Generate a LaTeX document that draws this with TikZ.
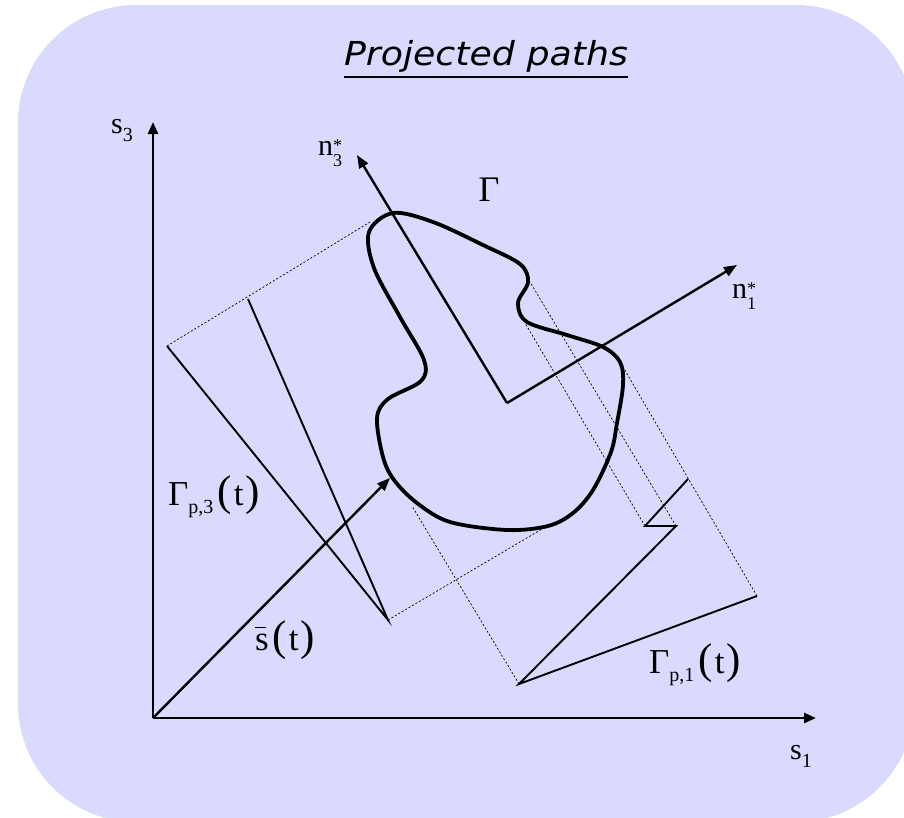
\documentclass[tikz,border=0pt]{standalone}
\usepackage{fontspec}
\setmainfont{Liberation Serif}
\newfontfamily\titlefont{DejaVu Sans}
\usetikzlibrary{arrows.meta}
\definecolor{bgfill}{RGB}{218,218,254}
\newcommand{\bigsz}{\fontsize{35}{35}\selectfont}
\newcommand{\subsz}{\fontsize{20}{20}\selectfont}
\newcommand{\smsz}{\fontsize{18}{18}\selectfont}
\newcommand{\parsz}{\fontsize{43}{43}\selectfont}
\newcommand{\mysub}[1]{\raisebox{-8pt}{\subsz #1}}
\newcommand{\mystar}[1]{\raisebox{-11pt}{\smsz\shortstack[l]{*\\#1}}}
\newcommand{\myarg}{\kern4pt{\parsz(}\kern2pt t\kern2pt{\parsz)}}
\begin{document}
\begin{tikzpicture}[x=1pt,y=-1pt,
  axis/.style={line width=2.6pt,-{Triangle[length=12pt,width=10pt]}},
  vec/.style={line width=2.4pt,-{Triangle[length=13pt,width=10pt]}},
  proj/.style={line width=1.9pt,line join=miter},
  guide/.style={line width=0.7pt,dash pattern=on 2pt off 2pt},
  curve/.style={line width=3.8pt},
  lbl/.style={inner sep=0pt,font=\fontsize{30}{30}\selectfont}]
\useasboundingbox (0,0) rectangle (904,817);
\clip (0,0) rectangle (904,817);
\fill[bgfill,rounded corners=118pt] (18,5) rectangle (914,822);

% title
\node (title) [anchor=base,inner sep=0pt,font=\titlefont\itshape\fontsize{33}{33}\selectfont] at (486,65) {\scalebox{1.1}[1]{Projected paths}};
\draw[line width=1.8pt] ([yshift=-12pt]title.base west) -- ([yshift=-12pt]title.base east);

% points
\coordinate (O) at (153,718);
\coordinate (S3) at (153,122);
\coordinate (S1) at (816,718);
\coordinate (St) at (390,478);
\coordinate (C) at (507,403);
\coordinate (N3) at (357,155);
\coordinate (N1) at (737,265);
\coordinate (A1) at (167,346);
\coordinate (A2) at (388,620);
\coordinate (A3) at (248,299);
\coordinate (B1) at (688,479);
\coordinate (B2) at (645,526);
\coordinate (B3) at (676,526);
\coordinate (B4) at (519,684);
\coordinate (B5) at (757,596);
\coordinate (T1) at (370,222);
\coordinate (T2) at (547,526);
\coordinate (T3) at (412,506);
\coordinate (T4) at (525,323);
\coordinate (T5) at (530,282);
\coordinate (T6) at (623,367);

% guide lines
\draw[guide] (A1) -- (T1);
\draw[guide] (A2) -- (T2);
\draw[guide] (B4) -- (T3);
\draw[guide] (B2) -- (T4);
\draw[guide] (B3) -- (T5);
\draw[guide] (B5) -- (T6);

% projected paths
\draw[proj] (A1) -- (A2) -- (A3);
\draw[proj] (B1) -- (B2) -- (B3) -- (B4) -- (B5);

% curve Gamma
\draw[curve] plot[smooth cycle,tension=0.55] coordinates {
 (393,213) (433,222) (483,245) (520,264) (528,282) (518,303) (527,322)
 (567,335) (603,347) (620,362) (623,385) (617,423) (611,452) (593,490)
 (573,513) (548,526) (507,530) (450,522) (417,503) (394,480) (383,457)
 (377,418) (388,399) (421,381) (424,360) (400,317) (374,268) (369,232)};

% local axes
\draw[vec] (C) -- (N3);
\draw[vec] (C) -- (N1);

% main axes
\draw[axis] (O) -- (S3);
\draw[axis] (O) -- (S1);
\draw[vec] (O) -- (St);

% labels
\node[lbl] (ls3) at (122,131) {s\mysub{3}};
\node[lbl] (ls1) at (801,756) {s\mysub{1}};
\node[lbl] (ln3) at (330,153) {n\mystar{3}};
\node[lbl] (ln1) at (744,296) {n\mystar{1}};
\node[lbl,font=\fontsize{36}{36}\selectfont] (lg) at (489,190) {Γ};
\node[lbl,font=\bigsz] (lgp3) at (214,497) {Γ\mysub{p,3}\myarg};
\node[lbl,font=\bigsz] (lgp1) at (695,665) {Γ\mysub{p,1}\myarg};
\node[lbl,font=\bigsz] (lst) at (285,640) {\rlap{\raisebox{22pt}{\rule{11pt}{1.6pt}}}s\myarg};
\end{tikzpicture}
\end{document}
